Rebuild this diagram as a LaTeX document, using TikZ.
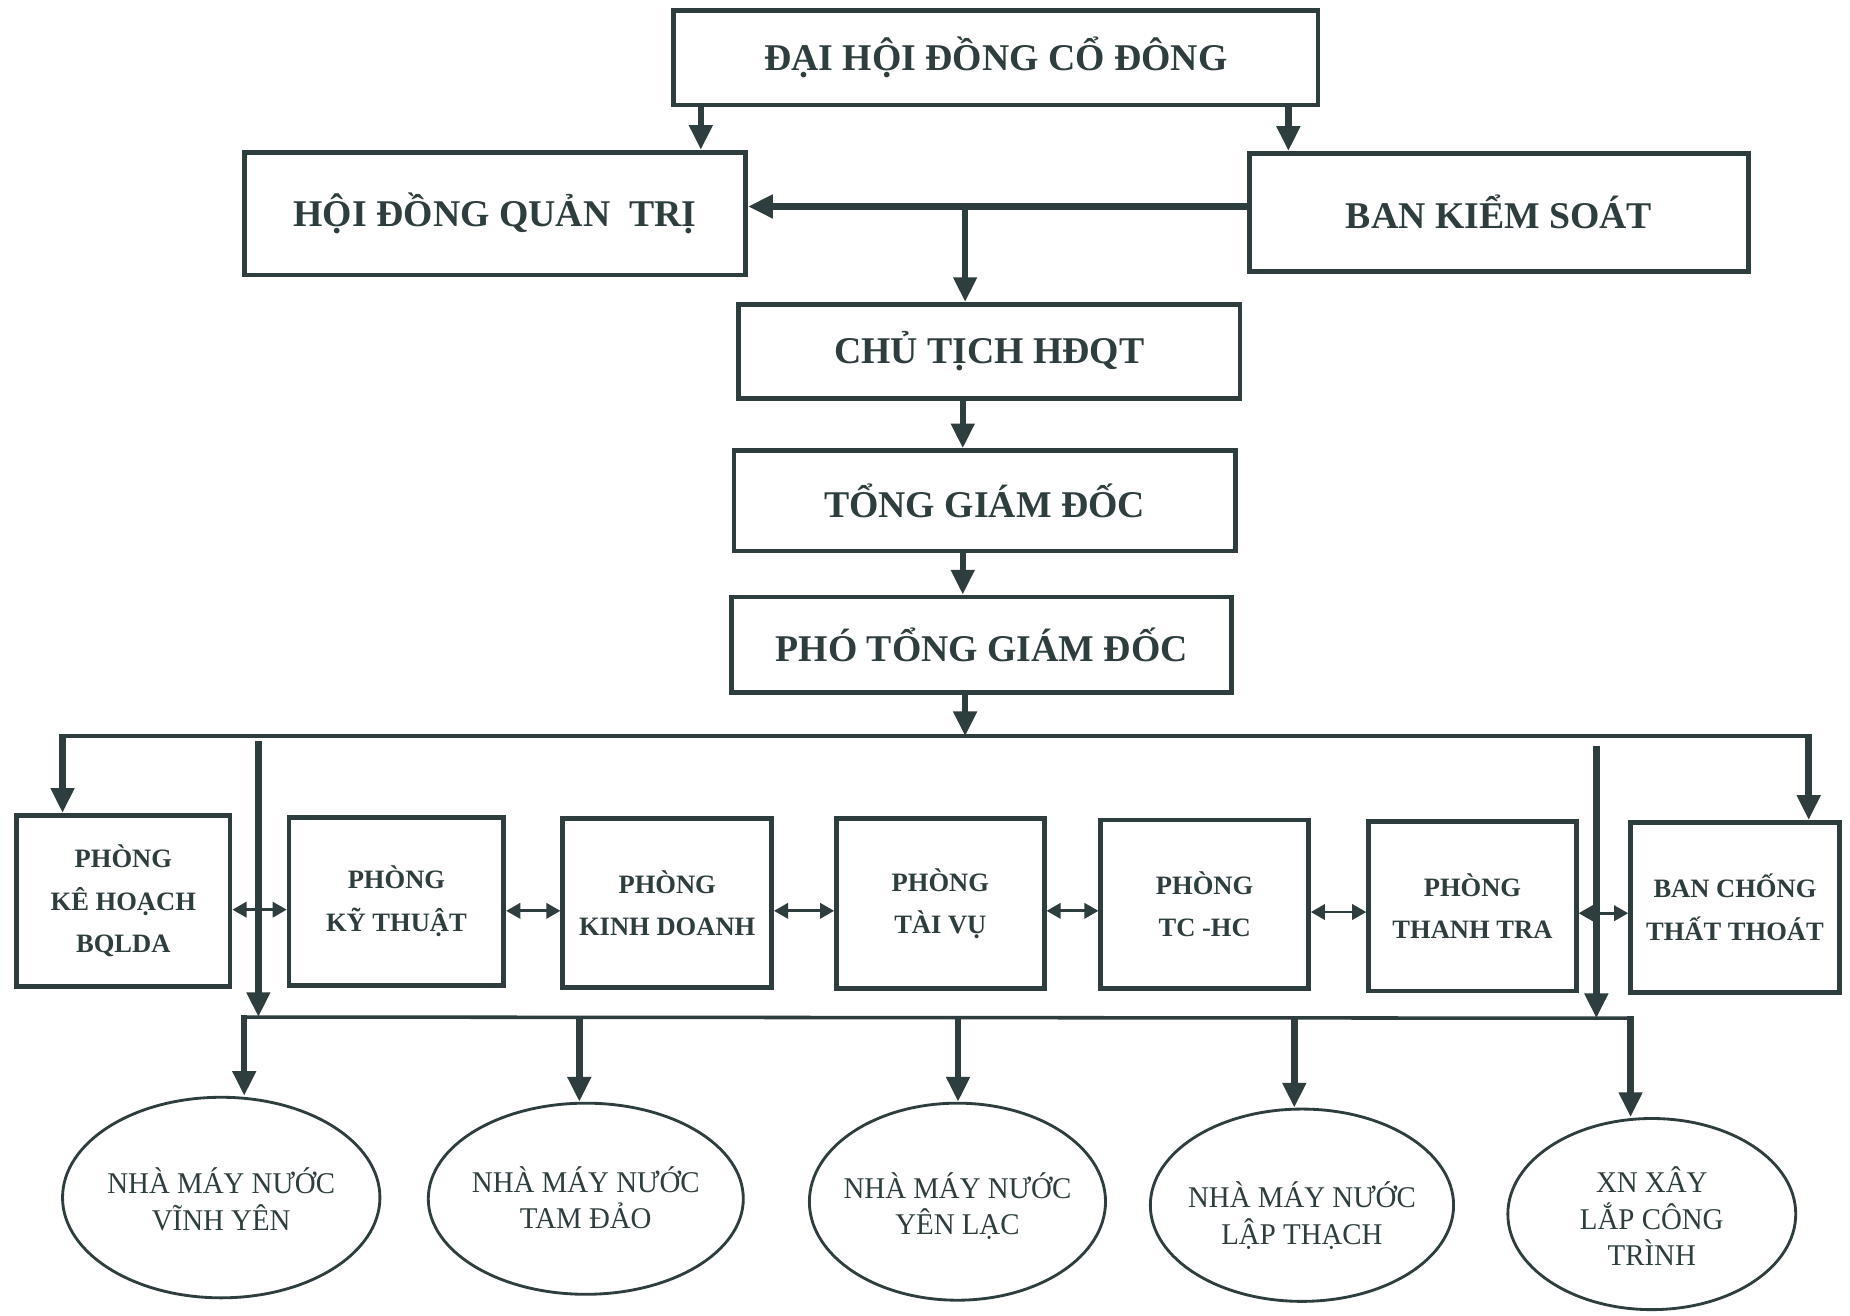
\documentclass[tikz,border=0pt]{standalone}
\usepackage{fontspec}
\setmainfont{Liberation Serif}
\newfontfamily\condfont[FakeStretch=0.96]{Liberation Serif}
\usetikzlibrary{arrows.meta,shapes.geometric,calc}
\definecolor{ink}{HTML}{2E3D3D}
\newcommand\ovaltext[2]{\makebox[0pt]{\raisebox{#1}[0pt][0pt]{\begin{tabular}{@{}c@{}}#2\end{tabular}}}}
\begin{document}
\begin{tikzpicture}[x=1pt,y=-1pt,
  box/.style={draw=ink, line width=4pt, text=ink, font=\bfseries\fontsize{32}{36}\selectfont, align=center, inner sep=0pt},
  sbox/.style={box, font=\bfseries\fontsize{22.5}{36}\selectfont},
  oval/.style={ellipse, draw=ink, line width=2.4pt, text=ink, font=\condfont\fontsize{25.5}{30}\selectfont, inner sep=0pt},
  arr/.style={draw=ink, line width=5.5pt, -{Triangle[width=19pt,length=21pt]}},
  busline/.style={draw=ink, line width=3pt},
  darr/.style={draw=ink, line width=2.4pt, {Triangle[width=13pt,length=12pt]}-{Triangle[width=13pt,length=12pt]}}
]
\useasboundingbox[fill=white] (0,0) rectangle (1568,1115);

% top boxes
\node[box, minimum width=546pt, minimum height=80pt] (dh) at (844,49) {ĐẠI HỘI ĐỒNG CỔ ĐÔNG};
\node[box, minimum width=425pt, minimum height=104pt] (hdqt) at (419.5,181) {HỘI ĐỒNG QUẢN\ \ TRỊ};
\node[box, minimum width=423pt, minimum height=100pt] (bks) at (1270.5,180) {BAN KIỂM SOÁT};
\node[box, minimum width=425pt, minimum height=80pt] (ct) at (838.5,298) {CHỦ TỊCH HĐQT};
\node[box, minimum width=425pt, minimum height=85pt] (tgd) at (834.5,424.5) {TỔNG GIÁM ĐỐC};
\node[box, minimum width=424pt, minimum height=81pt] (ptgd) at (832,546.5) {PHÓ TỔNG GIÁM ĐỐC};

% department boxes
\node[sbox, minimum width=181pt, minimum height=145pt] (b1) at (104.5,763.5) {PHÒNG\\KÊ HOẠCH\\BQLDA};
\node[sbox, minimum width=182pt, minimum height=142pt] (b2) at (336,764) {PHÒNG\\KỸ THUẬT};
\node[sbox, minimum width=177pt, minimum height=143pt] (b3) at (565.5,765.5) {PHÒNG\\KINH DOANH};
\node[sbox, minimum width=176pt, minimum height=144pt] (b4) at (797,766) {PHÒNG\\TÀI VỤ};
\node[sbox, minimum width=176pt, minimum height=143pt] (b5) at (1021,766.5) {PHÒNG\\TC -HC};
\node[sbox, minimum width=176pt, minimum height=144pt] (b6) at (1248,768) {PHÒNG\\THANH TRA};
\node[sbox, minimum width=177pt, minimum height=144pt] (b7) at (1470.5,769) {BAN CHỐNG\\THẤT THOÁT};

% units
\node[oval, minimum width=269pt, minimum height=170pt] (e1) at (187.5,1015) {\ovaltext{-12pt}{NHÀ MÁY NƯỚC\\VĨNH YÊN}};
\node[oval, minimum width=267pt, minimum height=162pt] (e2) at (496.5,1016) {\ovaltext{-10pt}{NHÀ MÁY NƯỚC\\TAM ĐẢO}};
\node[oval, minimum width=251pt, minimum height=167pt] (e3) at (811.5,1018.5) {\ovaltext{-12.5pt}{NHÀ MÁY NƯỚC\\YÊN LẠC}};
\node[oval, minimum width=257pt, minimum height=163pt] (e4) at (1103.5,1021.5) {\ovaltext{-17.5pt}{NHÀ MÁY NƯỚC\\LẬP THẠCH}};
\node[oval, minimum width=244pt, minimum height=162pt] (e5) at (1400,1029) {\ovaltext{-12.5pt}{XN XÂY\\LẮP CÔNG\\TRÌNH}};

% coordinates
\coordinate (a1) at (594,89);
\coordinate (a2) at (1092,89);
\coordinate (j1) at (818,175);
\coordinate (a3) at (816,338);
\coordinate (a4) at (816,467);
\coordinate (a5) at (818,587);
\coordinate (bc) at (818,624);
\coordinate (bl) at (53,624);
\coordinate (br) at (1533,624);
\coordinate (v1t) at (219,628);
\coordinate (v1b) at (219,862);
\coordinate (v2t) at (1353,632);
\coordinate (v2b) at (1353,863);
\coordinate (ll) at (207,862);
\coordinate (lr) at (1382,863);
\coordinate (d2) at (491,862);
\coordinate (d3) at (812,862);
\coordinate (d4) at (1097,863);

% top connectors
\draw[arr] (a1) -- (a1 |- hdqt.north);
\draw[arr] (a2) -- (a2 |- bks.north);
\draw[arr] (bks.west |- j1) -- (hdqt.east |- j1);
\draw[arr] (j1) -- (j1 |- ct.north);
\draw[arr] (a3) -- (a3 |- tgd.north);
\draw[arr] (a4) -- (a4 |- ptgd.north);
\draw[arr] (a5) -- (bc);

% upper bus
\draw[busline] (bl) -- (br);
\draw[arr] ([yshift=1.5pt]bl) -- (bl |- b1.north);
\draw[arr] ([yshift=1.5pt]br) -- (br |- b7.north);

% long verticals to lower bus
\draw[arr] (v1t) -- (v1b);
\draw[arr] (v2t) -- (v2b);

% lower bus
\draw[busline] (ll) -- (lr);
\draw[arr] ([yshift=1.5pt]ll) -- (ll |- e1.north);
\draw[arr] (d2) -- (d2 |- e2.north);
\draw[arr] (d3) -- (d3 |- e3.north);
\draw[arr] (d4) -- (d4 |- e4.north);
\draw[arr] ([yshift=1.5pt]lr) -- (lr |- e5.north);

% horizontal double arrows
\draw[darr] ([yshift=-7.5pt]b1.east) -- ([yshift=-7.5pt]b1.east -| b2.west);
\draw[darr] ([yshift=-8pt]b2.east) -- ([yshift=-8pt]b2.east -| b3.west);
\draw[darr] ([yshift=-6.5pt]b3.east) -- ([yshift=-6.5pt]b3.east -| b4.west);
\draw[darr] ([yshift=-6pt]b4.east) -- ([yshift=-6pt]b4.east -| b5.west);
\draw[darr] ([yshift=-6.5pt]b5.east) -- ([yshift=-6.5pt]b5.east -| b6.west);
\draw[darr] ([yshift=-6pt]b6.east) -- ([yshift=-6pt]b6.east -| b7.west);
\end{tikzpicture}
\end{document}
